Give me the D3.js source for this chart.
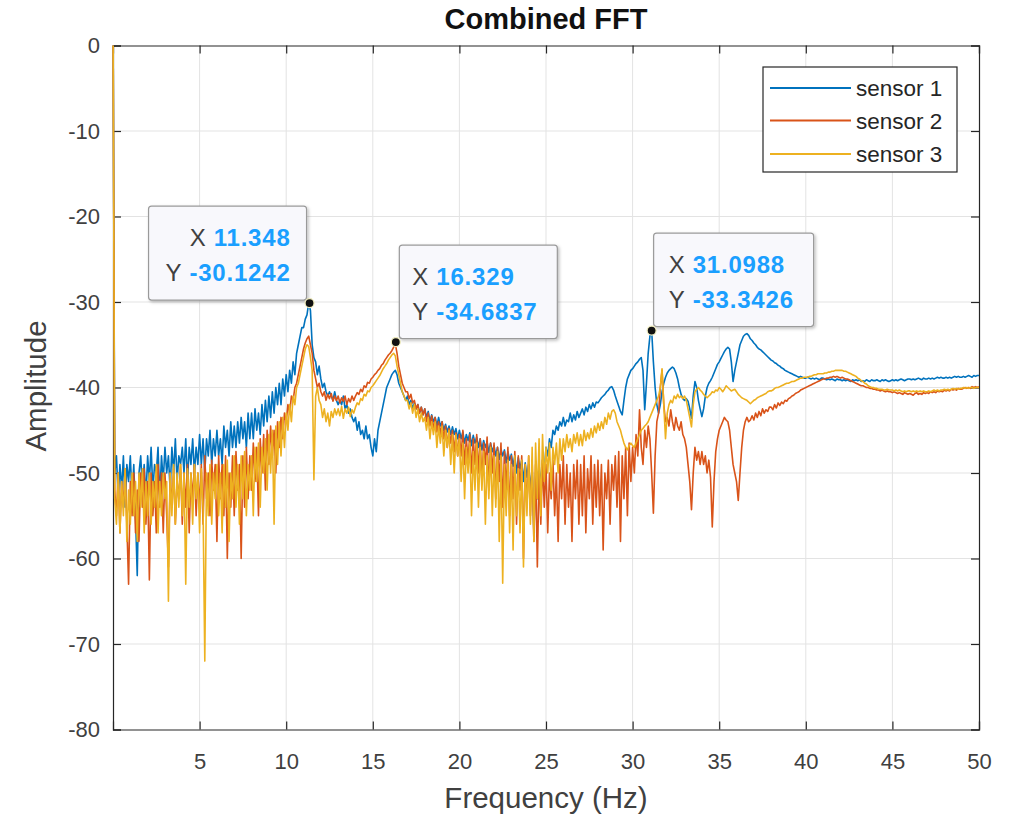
<!DOCTYPE html>
<html><head><meta charset="utf-8">
<script src="https://cdn.jsdelivr.net/npm/d3@7"></script>
<style>
body{margin:0;background:#fff}
svg{display:block}
text{font-family:"Liberation Sans",Arial,Helvetica,sans-serif}
</style>
</head><body>
<svg id="chart" width="1011" height="816"></svg>
<script>
// FFT bin spacing (Hz) – the x grid of every series
const binWidthHz = 0.1;

// Amplitude (dB) per bin, one row per Hz (10 bins)
const sensor1 = [
  5,-50,-48,-53,-49,-52,-48,-54,-49,-51,
  -48,-53,-49,-55,-62,-50,-48,-52,-49,-53,
  -48,-51,-47,-52,-49,-50,-47,-53,-48,-51,
  -47,-50,-48,-52,-47,-50,-46,-51,-48,-49,
  -47,-50,-46,-51,-47,-49,-46,-50,-47,-49,
  -45.5,-49,-46,-50,-46,-48,-45,-49,-46,-48,
  -45,-48,-46,-49,-44.5,-47,-45,-48,-44,-47,
  -44.5,-47,-44,-46.5,-43.5,-46,-44,-47,-43,-46,
  -43,-46,-42.5,-45,-43,-45.5,-42,-44.5,-41.5,-44,
  -41,-43.5,-40.5,-43,-40,-42,-39.5,-42,-39,-41,
  -38.5,-40.5,-38,-39.5,-37,-38.5,-36,-35,-34,-33,
  -33,-32,-31.5,-30.1,-31,-35,-36.5,-37,-38.5,-37.5,
  -39,-40,-39.5,-40.5,-41,-40.5,-41,-41.5,-40.5,-41.5,
  -42,-41.5,-42,-41,-42.5,-42,-43,-42.5,-43.5,-44,
  -43.5,-45,-44,-45.5,-45,-46,-44.5,-46,-45.5,-47,
  -48,-46,-47.5,-45,-44,-43,-42,-41,-40,-39.5,
  -39,-38.5,-38.2,-38,-38.5,-39.5,-40,-40.5,-41,-41.5,
  -41,-42,-41.5,-42.5,-41.8,-42.5,-42,-43,-42.3,-43.2,
  -42.5,-43.5,-42.8,-44,-43.2,-44,-43.5,-44.5,-43.5,-44.5,
  -44,-45,-44.3,-45.2,-44.5,-45.5,-44.6,-45.5,-44.8,-46,
  -45,-46,-45.2,-46.5,-45.5,-46.2,-45.3,-46.8,-45.6,-46.5,
  -45.8,-47,-46,-47.3,-46.2,-47,-46.4,-47.6,-46.5,-47.5,
  -46.8,-48,-47,-48.4,-47.2,-48,-47.3,-48.8,-47.5,-48.5,
  -47.8,-49.2,-48,-50,-48.2,-49.5,-48.5,-51,-48.8,-50.5,
  -49,-52,-49.5,-57,-50,-53,-49,-51.5,-48.5,-50,
  -47,-48,-46,-47,-45,-45.5,-44.5,-45,-44,-44.5,
  -43.5,-44.5,-43.8,-44,-43,-44,-43.2,-43.8,-42.8,-43.5,
  -43,-42.5,-43.2,-42.3,-42.8,-42,-42.5,-41.8,-42.3,-41.7,
  -41.8,-41.5,-41.2,-41,-40.8,-40.5,-40.3,-40,-39.9,-40.3,
  -41,-41.6,-42.2,-42.8,-43.2,-41.5,-40,-39,-38.5,-38,
  -37.8,-37.5,-37.2,-37,-36.7,-36.5,-38,-42.6,-39.5,-36,
  -34,-33.3,-37,-40,-42,-43,-42,-40.5,-39.5,-38.8,
  -38.3,-38,-37.8,-37.6,-37.8,-38.3,-39,-40,-40.8,-41.3,
  -41.5,-41.3,-41.6,-42.5,-43.6,-41,-39.3,-40,-41.5,-42.5,
  -43.4,-42.5,-41,-40,-39.5,-39.2,-38.8,-38.3,-37.8,-37.3,
  -37,-36.6,-36.2,-35.8,-35.5,-35.3,-35.5,-37,-39.3,-38,
  -37,-36,-35,-34.5,-34,-33.8,-33.7,-33.9,-34.3,-34.5,
  -34.8,-35,-35.3,-35.5,-35.6,-35.8,-36,-36.2,-36.4,-36.6,
  -36.8,-36.9,-37.1,-37.2,-37.4,-37.5,-37.7,-37.8,-38,-38.1,
  -38.2,-38.3,-38.4,-38.5,-38.6,-38.7,-38.8,-38.7,-38.8,-38.9,
  -38.9,-38.8,-38.9,-39,-38.9,-39,-38.9,-39,-39.1,-38.9,
  -38.9,-39,-39.1,-39,-39.1,-39,-39.1,-39.2,-39,-39.1,
  -39.1,-39.2,-39.1,-39.2,-39.1,-39.2,-39.3,-39.1,-39.2,-39.1,
  -39.2,-39.1,-39.3,-39.2,-39.3,-39.1,-39.2,-39.3,-39.1,-39.2,
  -39.2,-39.1,-39.2,-39.3,-39.1,-39.2,-39.1,-39.2,-39.3,-39.2,
  -39.1,-39.2,-39.1,-39.2,-39.1,-39,-39.1,-39.2,-39.1,-39,
  -39,-39.1,-39,-39.1,-39,-38.9,-39,-39.1,-38.9,-39,
  -39,-38.9,-39,-38.9,-39,-38.9,-38.8,-38.9,-38.8,-38.9,
  -38.9,-38.8,-38.9,-38.8,-38.9,-38.8,-38.7,-38.8,-38.7,-38.8,
  -38.8,-38.7,-38.8,-38.7,-38.6,-38.7,-38.8,-38.6,-38.7,-38.6,
  -38.6
];
const sensor2 = [
  5,-52,-55,-50,-57,-51,-54,-49.5,-56,-63,
  -51,-55,-50,-57,-52,-58,-50,-54,-49.5,-56,
  -51,-62.5,-50,-55,-51,-57,-49,-54,-50,-57,
  -50,-55,-61,-50,-54,-49.5,-56,-51,-53,-49,
  -56,-50,-54,-49,-57,-50,-53,-49,-55,-50,
  -54,-49,-56,-48,-53,-50,-55,-48.5,-52,-49,
  -58,-48,-53,-49,-55,-48,-60,-50,-54,-48,
  -55,-47.5,-52,-49,-60,-48,-54,-47,-53,-48,
  -52,-46.5,-51,-47,-55,-46,-50,-45.5,-52,-45,
  -49,-44.5,-48,-45,-50,-44,-47,-43.5,-46,-43,
  -44,-42,-43,-41,-41.5,-40,-39.5,-38.5,-37.5,-36.5,
  -35.5,-34.8,-34.3,-34,-35,-36,-38,-39,-40,-39.5,
  -40.5,-41,-40.5,-41.5,-40.8,-41.3,-40.7,-41.6,-41,-41.5,
  -41,-41.8,-41.2,-41.6,-41,-42,-41.3,-41.7,-41,-41.5,
  -41,-40.6,-40.8,-40.2,-40.5,-39.8,-40,-39.4,-39.5,-39,
  -38.8,-38.5,-38.3,-38,-37.8,-37.4,-37.2,-36.8,-36.5,-36.2,
  -36,-35.7,-35.3,-34.9,-36,-37.5,-38.5,-39.5,-40,-40.5,
  -40.5,-41.3,-40.8,-41.8,-41.5,-42.5,-42,-43,-42.3,-43.2,
  -42.5,-44,-43,-44.5,-43.3,-45,-43.5,-45.2,-44,-45.5,
  -44,-46,-44.5,-47,-44.8,-46.5,-45,-47.5,-45.3,-48,
  -45.5,-48,-45,-49,-46,-48.5,-45.5,-50,-46,-49,
  -45.5,-50,-46,-51,-46.5,-49,-45.8,-52,-46.5,-50,
  -46.5,-53,-47,-51,-46.5,-54,-47.5,-52,-47,-55,
  -48,-53,-47.5,-56,-48,-52,-48,-60,-49,-54,
  -48,-55,-48.5,-58,-49,-61,-50,-56,-48.5,-54,
  -49,-57,-50,-53,-48.5,-55,-50,-58,-49,-53,
  -48,-56,-49,-54,-50,-58,-49,-53,-48.5,-56,
  -49,-55,-48,-57,-49.5,-53,-48,-56,-49,-54,
  -48.5,-55,-49,-59,-50,-53,-48.5,-56,-49,-52,
  -48,-54,-47.5,-58,-48,-53,-47,-55,-46.5,-51,
  -47,-50,-45.5,-48,-42.6,-47,-49,-45,-47,-44.5,
  -46,-50,-54.7,-48,-44,-43,-40,-38,-42,-44,
  -43.5,-44.5,-42.6,-44,-45,-43.5,-44.5,-45,-44,-45.5,
  -46,-47,-49,-51,-54.3,-50,-47,-48.5,-47.5,-49,
  -47.5,-49,-48,-50,-48.5,-50.5,-56.3,-51,-47.5,-46,
  -45,-44.5,-44,-43.5,-43.8,-44,-45,-47,-49,-50,
  -51,-53.2,-50,-47,-45,-44,-43.5,-44,-43.8,-43.3,
  -43.8,-43,-43.5,-42.8,-43.3,-42.5,-43,-42.6,-42.8,-42.3,
  -42.3,-42.6,-42,-42.4,-41.8,-42.1,-41.7,-41.9,-41.5,-41.6,
  -41.3,-41.2,-41,-40.9,-40.7,-40.6,-40.5,-40.3,-40.2,-40.1,
  -40,-39.9,-39.8,-39.7,-39.6,-39.5,-39.4,-39.3,-39.2,-39.1,
  -39,-39,-38.9,-38.9,-38.8,-38.8,-38.7,-38.8,-38.7,-38.8,
  -38.9,-38.8,-38.9,-39,-39,-39.1,-39.2,-39.3,-39.4,-39.5,
  -39.6,-39.7,-39.8,-39.8,-39.9,-40,-40,-40.1,-40.1,-40.2,
  -40.2,-40.3,-40.3,-40.4,-40.3,-40.4,-40.5,-40.4,-40.5,-40.5,
  -40.6,-40.5,-40.6,-40.7,-40.6,-40.7,-40.8,-40.6,-40.7,-40.8,
  -40.7,-40.8,-40.9,-40.7,-40.6,-40.8,-40.7,-40.8,-40.6,-40.7,
  -40.6,-40.7,-40.5,-40.6,-40.5,-40.6,-40.4,-40.5,-40.4,-40.5,
  -40.3,-40.4,-40.3,-40.4,-40.2,-40.3,-40.2,-40.3,-40.1,-40.2,
  -40.2,-40.1,-40,-40.1,-40,-40.1,-39.9,-40,-39.9,-40,
  -39.9
];
const sensor3 = [
  5,-53,-56,-50,-57,-51,-55,-49.5,-58,-52,
  -56,-50,-55,-51,-58,-50,-54,-49.5,-57,-51,
  -55,-50,-56,-51,-54,-49,-57,-51,-55,-50,
  -53,-51,-65,-50,-55,-49,-56,-50,-54,-49,
  -55,-50,-63,-49.5,-54,-50,-56,-49,-53,-50,
  -57,-49.5,-54,-72,-50,-55,-49,-56,-50,-53,
  -49,-55,-50,-57,-49,-54,-48.5,-58,-50,-53,
  -48,-54,-49,-56,-48,-53,-47.5,-55,-49,-52,
  -48,-55,-47,-51,-46.5,-54,-47,-50,-46,-52,
  -45.5,-50,-45,-56,-44.5,-49,-44,-48,-43.5,-47,
  -43,-45,-42,-44,-41,-42,-40,-39.5,-38.5,-37.5,
  -36.5,-35.5,-35,-35.2,-36.5,-38,-50.8,-41,-40,-41.5,
  -42,-43.5,-42.5,-44,-43,-44.5,-42.8,-43.5,-42.5,-43.2,
  -42.5,-43.3,-42.2,-43.6,-42.5,-43,-42.3,-43.4,-42.6,-43,
  -42.3,-41.8,-42,-41.3,-41.5,-40.8,-41,-40.4,-40.5,-40,
  -39.8,-39.5,-39.2,-38.9,-38.6,-38.2,-37.8,-37.5,-37.2,-36.8,
  -36.5,-36.2,-36,-36.3,-37.5,-38.5,-39.5,-40.5,-41,-41.5,
  -41.5,-42.5,-41.8,-43,-42,-43.5,-42.5,-44,-43,-44,
  -43.5,-45,-43.5,-46,-44,-45.5,-44,-47,-44.5,-46.5,
  -44.5,-48,-45,-47,-45,-49,-45.5,-50,-45.5,-48,
  -46,-51,-46.5,-53,-47,-50,-46.5,-55,-47.5,-52,
  -46.5,-54,-47,-52,-47.5,-56,-48,-53,-47,-55,
  -48,-54,-47.5,-58,-48,-62.9,-49,-55,-48.5,-57,
  -49,-59,-48,-55,-49.5,-57,-48.5,-61,-49,-55,
  -48,-56,-47,-58,-46.5,-53,-46,-55,-45.5,-51,
  -47,-50,-46.5,-52,-47,-49,-46.5,-50,-46,-48.5,
  -46,-47.5,-45.5,-47,-46,-47.5,-45.5,-46.5,-45.3,-46.8,
  -45.5,-46.8,-45,-46.2,-45.3,-46,-44.8,-45.8,-44.5,-45.3,
  -44.2,-45,-44,-44.8,-43.5,-44.3,-43,-43.7,-42.8,-42.6,
  -43,-44,-44.5,-45,-45.8,-46.5,-47,-47.3,-46.8,-46.5,
  -46.8,-47,-46.5,-46,-45.5,-45,-44.8,-44.5,-44.3,-44,
  -43.5,-43,-42.5,-42,-41.5,-41,-40,-37.8,-42,-46,
  -43,-42,-41.5,-41.8,-41,-41.3,-40.8,-41.2,-41,-41.3,
  -41,-41.5,-42.5,-43.5,-44.6,-42,-40.5,-40.2,-40,-40.3,
  -40.5,-40.8,-41,-41.2,-41,-40.8,-40.5,-40.6,-40.3,-40.4,
  -40,-40.2,-40.5,-40.2,-39.8,-40,-40.2,-40.4,-40.3,-40.2,
  -40.5,-40.8,-41,-41.2,-41.3,-41.4,-41.5,-41.7,-41.9,-41.7,
  -41.5,-41.4,-41.2,-41.1,-41,-40.9,-40.8,-40.7,-40.5,-40.4,
  -40.4,-40.3,-40.1,-40,-40,-39.9,-39.8,-39.7,-39.6,-39.5,
  -39.5,-39.4,-39.3,-39.3,-39.2,-39.1,-39,-38.9,-38.9,-38.8,
  -38.8,-38.8,-38.7,-38.7,-38.6,-38.5,-38.5,-38.4,-38.4,-38.4,
  -38.4,-38.3,-38.3,-38.2,-38.2,-38.1,-38.1,-38,-38,-38,
  -38,-38,-38.1,-38.1,-38.2,-38.3,-38.4,-38.5,-38.6,-38.7,
  -38.9,-39,-39.2,-39.3,-39.5,-39.6,-39.8,-39.9,-40,-40,
  -40.1,-40.1,-40.2,-40.2,-40.2,-40.3,-40.3,-40.2,-40.3,-40.3,
  -40.3,-40.4,-40.3,-40.4,-40.3,-40.4,-40.5,-40.4,-40.5,-40.4,
  -40.4,-40.5,-40.4,-40.5,-40.4,-40.5,-40.4,-40.5,-40.4,-40.5,
  -40.5,-40.4,-40.5,-40.4,-40.3,-40.4,-40.3,-40.4,-40.3,-40.3,
  -40.2,-40.3,-40.2,-40.3,-40.2,-40.1,-40.2,-40.1,-40.2,-40.1,
  -40.1,-40,-40.1,-40,-40.1,-40,-40,-40.1,-40,-40,
  -40
];

const seriesNames = ["sensor 1", "sensor 2", "sensor 3"];
const seriesColors = ["#0072BD", "#D95319", "#EDB120"];
const xTicks = [5, 10, 15, 20, 25, 30, 35, 40, 45, 50];
const yTicks = [0, -10, -20, -30, -40, -50, -60, -70, -80];
const tipX = [11.348, 16.329, 31.0988];
const tipY = [-30.1242, -34.6837, -33.3426];
const tipXLabels = ["11.348", "16.329", "31.0988"];
const tipYLabels = ["-30.1242", "-34.6837", "-33.3426"];

// ---------- layout ----------
const L = 113, R = 979, T = 45.5, B = 729.5;
const svg = d3.select("#chart");
const x = d3.scaleLinear().domain([0, 50]).range([L, R]);
const y = d3.scaleLinear().domain([-80, 0]).range([B, T]);
const axisColor = "#262626";
const plain = d => String(d);

// grid
const grid = svg.append("g");
grid.selectAll("line.gx").data(xTicks.filter(t => t < 50)).join("line")
  .attr("x1", d => x(d)).attr("x2", d => x(d)).attr("y1", T).attr("y2", B)
  .attr("stroke", "#e3e3e3").attr("stroke-width", 1);
grid.selectAll("line.gy").data(yTicks.filter(t => t > -80 && t < 0)).join("line")
  .attr("x1", L).attr("x2", R).attr("y1", d => y(d)).attr("y2", d => y(d))
  .attr("stroke", "#e3e3e3").attr("stroke-width", 1);

// axes (box with inward ticks on all sides)
const ax = svg.append("g").attr("class", "axes");
const gB = ax.append("g").attr("transform", `translate(0,${B})`)
  .call(d3.axisBottom(x).tickValues(xTicks).tickSize(-8).tickPadding(24).tickFormat(plain));
const gL = ax.append("g").attr("transform", `translate(${L},0)`)
  .call(d3.axisLeft(y).tickValues(yTicks).tickSize(-8).tickPadding(13).tickFormat(plain));
const gT = ax.append("g").attr("transform", `translate(0,${T})`)
  .call(d3.axisTop(x).tickValues(xTicks).tickSize(-8).tickFormat(""));
const gR = ax.append("g").attr("transform", `translate(${R},0)`)
  .call(d3.axisRight(y).tickValues(yTicks).tickSize(-8).tickFormat(""));
[gB, gL, gT, gR].forEach(g => {
  g.select(".domain").attr("stroke", axisColor).attr("stroke-width", 1.2);
  g.selectAll(".tick line").attr("stroke", axisColor).attr("stroke-width", 1.2);
  g.selectAll(".tick text").attr("fill", "#404040").attr("font-size", 22)
    .attr("font-family", '"Liberation Sans",Arial,sans-serif');
});
gT.selectAll(".tick text").remove();
gR.selectAll(".tick text").remove();

// data
svg.append("clipPath").attr("id", "clip").append("rect")
  .attr("x", L - 1).attr("y", T).attr("width", R - L + 1).attr("height", B - T);
const line = d3.line().x((d, i) => x(i * binWidthHz)).y(d => y(d));
const plot = svg.append("g").attr("clip-path", "url(#clip)");
[sensor1, sensor2, sensor3].forEach((s, k) => {
  plot.append("path").datum(s).attr("d", line).attr("fill", "none")
    .attr("stroke", seriesColors[k]).attr("stroke-width", 1.6).attr("stroke-linejoin", "round");
});

// title & labels
svg.append("text").attr("x", (L + R) / 2).attr("y", 29).attr("text-anchor", "middle")
  .attr("font-size", 29).attr("font-weight", "bold").attr("fill", "#111").text("Combined FFT");
svg.append("text").attr("x", (L + R) / 2).attr("y", 808).attr("text-anchor", "middle")
  .attr("font-size", 29.5).attr("fill", "#404040").text("Frequency (Hz)");
svg.append("text").attr("transform", `translate(46,386) rotate(-90)`).attr("text-anchor", "middle")
  .attr("font-size", 29.5).attr("fill", "#404040").text("Amplitude");

// legend
const lg = svg.append("g");
lg.append("rect").attr("x", 763).attr("y", 67).attr("width", 194).attr("height", 105)
  .attr("fill", "#fff").attr("stroke", axisColor).attr("stroke-width", 1.2);
const legendRows = [88, 120.5, 154];
seriesNames.forEach((n, k) => {
  lg.append("line").attr("x1", 770).attr("x2", 851).attr("y1", legendRows[k]).attr("y2", legendRows[k])
    .attr("stroke", seriesColors[k]).attr("stroke-width", 1.8);
  lg.append("text").attr("x", 856).attr("y", legendRows[k] + 8).attr("font-size", 22.5)
    .attr("fill", "#262626").text(n);
});

// data tips
const defs = svg.append("defs");
const f = defs.append("filter").attr("id", "shadow").attr("x", "-10%").attr("y", "-10%").attr("width", "130%").attr("height", "130%");
f.append("feDropShadow").attr("dx", 1.5).attr("dy", 1.5).attr("stdDeviation", 1.5).attr("flood-color", "#000").attr("flood-opacity", 0.25);
const tipBoxes = [
  {left: -161, top: -97, w: 158, h: 94, anchor: "end", tx: 142},
  {left: 3.5, top: -97, w: 158, h: 93.5, anchor: "start", tx: 13},
  {left: 2, top: -97.5, w: 160, h: 93.5, anchor: "start", tx: 15}
];
const tips = svg.append("g");
tipX.forEach((tx, k) => {
  const px = x(tx), py = y(tipY[k]);
  const b = tipBoxes[k];
  const bx = px + b.left, by = py + b.top;
  tips.append("rect").attr("x", bx).attr("y", by).attr("width", b.w).attr("height", b.h)
    .attr("rx", 3).attr("fill", "#f8f8fc").attr("stroke", "#9a9a9a").attr("stroke-width", 1.2)
    .attr("filter", "url(#shadow)");
  [["X", tipXLabels[k], 40], ["Y", tipYLabels[k], 74.5]].forEach(([lab, val, dy]) => {
    const t = tips.append("text").attr("x", bx + b.tx).attr("y", by + dy)
      .attr("text-anchor", b.anchor).attr("font-size", 24);
    t.append("tspan").attr("fill", "#404040").text(lab);
    t.append("tspan").attr("dx", 8).attr("fill", "#1a9fff").attr("font-weight", "bold")
      .attr("letter-spacing", 0.8).text(val);
  });
  tips.append("circle").attr("cx", px).attr("cy", py).attr("r", 4.5)
    .attr("fill", "#111").attr("stroke", "#f3efc0").attr("stroke-width", 1.2);
});
</script>
</body></html>
